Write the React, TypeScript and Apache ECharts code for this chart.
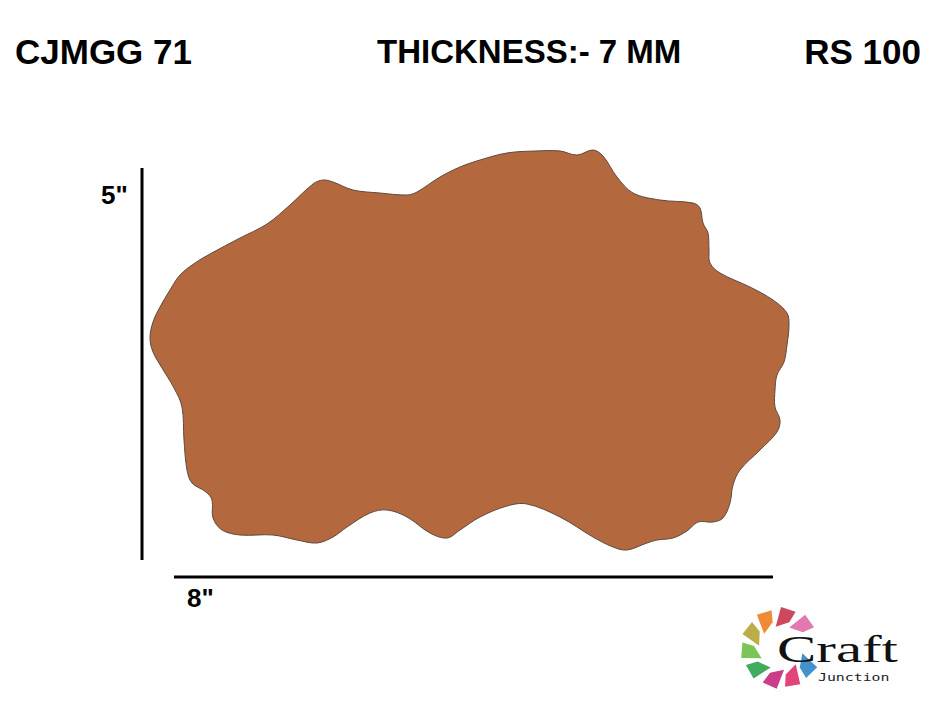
import React, { useEffect, useRef } from "react";
import * as echarts from "echarts";

// Image-space extent (pixels of the product sheet)
const canvasW = 940;
const canvasH = 701;

// Header texts
const codeLabel = "CJMGG 71";
const thicknessLabel = "THICKNESS:- 7 MM";
const priceLabel = "RS 100";
const heightLabel = '5"';
const widthLabel = '8"';

// Outline of the piece (traced, image units)
const outline: number[][] = [
  [150, 338], [153, 322], [160, 307], [170, 290], [180, 275], [195, 263], [210, 254],
  [240, 238], [267, 224], [290, 205], [313, 184], [323, 180], [333, 182], [353, 190],
  [380, 193], [407, 195], [417, 192], [440, 177], [460, 167], [480, 160], [507, 153],
  [535, 151], [560, 151], [577, 155], [593, 150], [603, 156], [617, 177], [633, 193],
  [660, 200], [693, 203], [700, 208], [703, 223], [708, 233], [709, 250], [710, 263],
  [720, 273], [750, 287], [773, 300], [787, 313], [789, 325], [787, 345], [784, 362],
  [777, 375], [775, 390], [775, 407], [780, 420], [777, 432], [760, 450], [740, 470],
  [733, 485], [730, 503], [723, 518], [713, 522], [698, 522], [687, 531], [673, 538],
  [657, 540], [647, 543], [627, 550], [613, 547], [593, 537], [560, 517], [527, 504],
  [507, 506], [480, 517], [460, 530], [447, 538], [430, 533], [407, 517], [387, 510],
  [370, 513], [347, 527], [333, 537], [317, 543], [297, 540], [273, 535], [240, 535],
  [222, 530], [213, 518], [212, 500], [206, 492], [192, 483], [187, 470], [184, 440],
  [182, 407], [174, 388], [162, 368], [153, 352],
];

// Dimension lines
const heightLine: number[][] = [[142, 168], [142, 560]];
const widthLine: number[][] = [[174, 577], [773, 577]];

// Logo petals: angle (deg, clockwise from right) and colour
const petalAngles = [34, 68, 102, 138, 172, 206, 240, 276, 312];
const petalColors = ["#2f86c6", "#e0306a", "#c4287a", "#2fa24e", "#6cbf45", "#b4a434", "#ee7d22", "#c8344e", "#e06aa6"];

export default function App() {
  const ref = useRef<HTMLDivElement>(null);
  useEffect(() => {
    if (!ref.current) return;
    const chart = echarts.init(ref.current, undefined, { renderer: "svg" });
    const cx = 781;
    const cy = 648;
    const pt = (r: number, deg: number) => {
      const a = (deg * Math.PI) / 180;
      return [cx + r * Math.cos(a), cy + r * Math.sin(a)];
    };
    const petals = petalAngles.map((a, i) => ({
      type: "polygon",
      silent: true,
      shape: { points: [pt(22, a - 20), pt(41, a - 6), pt(39, a + 16), pt(27, a + 12)] },
      style: { fill: petalColors[i], opacity: 0.9 },
    }));
    chart.setOption({
      animation: false,
      backgroundColor: "#ffffff",
      grid: { left: 0, right: 0, top: 0, bottom: 0 },
      xAxis: { type: "value", min: 0, max: canvasW, show: false },
      yAxis: { type: "value", min: 0, max: canvasH, inverse: true, show: false },
      series: [
        {
          type: "custom",
          data: outline,
          silent: true,
          renderItem: (params: any, api: any) => {
            if (params.dataIndex !== 0) return null;
            const pts = outline.map((p) => api.coord(p));
            return {
              type: "polygon",
              shape: { points: pts, smooth: 0.35 },
              style: { fill: "#b4683e", stroke: "#5e4a40", lineWidth: 1 },
            };
          },
        },
        {
          type: "line",
          data: heightLine,
          symbol: "none",
          silent: true,
          lineStyle: { color: "#000", width: 3 },
        },
        {
          type: "line",
          data: widthLine,
          symbol: "none",
          silent: true,
          lineStyle: { color: "#000", width: 3 },
        },
      ],
      graphic: [
        {
          type: "text",
          left: 15,
          top: 34,
          silent: true,
          style: { text: codeLabel, font: "bold 35px 'Liberation Sans', Arial, sans-serif", fill: "#000" },
        },
        {
          type: "text",
          left: 377,
          top: 35,
          silent: true,
          style: { text: thicknessLabel, font: "bold 33px 'Liberation Sans', Arial, sans-serif", fill: "#000" },
        },
        {
          type: "text",
          right: 19,
          top: 34,
          silent: true,
          style: { text: priceLabel, font: "bold 35px 'Liberation Sans', Arial, sans-serif", fill: "#000" },
        },
        {
          type: "text",
          left: 101,
          top: 182,
          silent: true,
          style: { text: heightLabel, font: "bold 26px 'Liberation Sans', Arial, sans-serif", fill: "#000" },
        },
        {
          type: "text",
          left: 187,
          top: 585,
          silent: true,
          style: { text: widthLabel, font: "bold 26px 'Liberation Sans', Arial, sans-serif", fill: "#000" },
        },
        ...petals,
        {
          type: "text",
          x: 777,
          y: 630,
          scaleX: 1.55,
          silent: true,
          style: { text: "Craft", font: "38px 'Liberation Serif', serif", fill: "#111" },
        },
        {
          type: "text",
          x: 818,
          y: 672,
          scaleX: 1.35,
          silent: true,
          style: { text: "Junction", font: "11px 'DejaVu Sans Mono', monospace", fill: "#222" },
        },
      ],
    });
    return () => chart.dispose();
  }, []);
  return (
    <div
      ref={ref}
      style={{ position: "fixed", left: 0, top: 0, width: canvasW, height: canvasH, background: "#fff" }}
    />
  );
}
